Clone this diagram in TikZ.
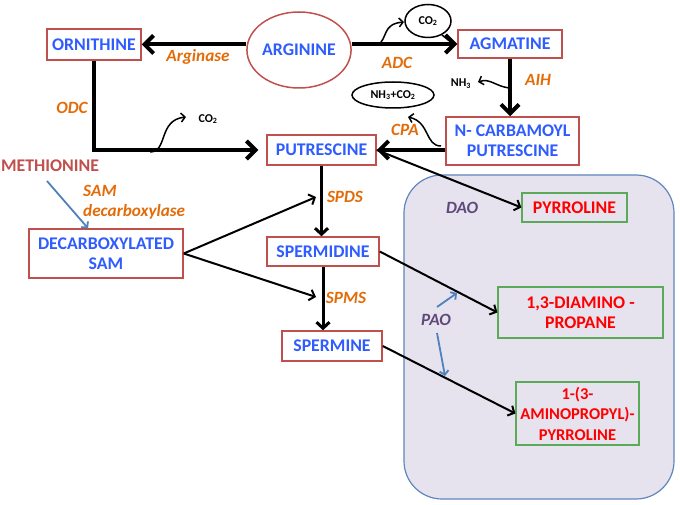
\documentclass[tikz,border=0pt]{standalone}
\usepackage{fontspec}
\setmainfont{Carlito}
\usetikzlibrary{arrows.meta,shapes.geometric}
\definecolor{boxblue}{RGB}{46,92,255}
\definecolor{boxred}{RGB}{192,80,77}
\definecolor{enzorange}{RGB}{227,108,9}
\definecolor{prodred}{RGB}{255,0,0}
\definecolor{prodgreen}{RGB}{90,170,90}
\definecolor{enzpurple}{RGB}{95,73,122}
\definecolor{panelfill}{RGB}{230,226,238}
\definecolor{panelline}{RGB}{95,135,190}
\definecolor{sideblue}{RGB}{79,129,189}
\begin{document}
\begin{tikzpicture}[x=1pt,y=-1pt,
  bigfont/.style={font=\bfseries\fontsize{17.8}{20}\selectfont},
  redbox/.style={draw=boxred, line width=1.5pt, fill=white, text=boxblue, bigfont, inner sep=0pt, align=center},
  greenbox/.style={draw=prodgreen, line width=1.2pt, fill=panelfill, text=prodred, bigfont, inner sep=0pt, align=center},
  enzyme/.style={text=enzorange, font=\bfseries\itshape\fontsize{17.2}{20}\selectfont, inner sep=0pt},
  enzymep/.style={text=enzpurple, font=\bfseries\itshape\fontsize{17.2}{20}\selectfont, inner sep=0pt},
  small/.style={font=\bfseries\fontsize{12}{14}\selectfont, inner sep=0pt},
  thickarr/.style={draw=black, line width=4pt, -{Straight Barb[length=9pt,width=18pt,line width=4pt]}},
  midarr/.style={draw=black, line width=3pt, -{Straight Barb[length=6pt,width=13pt,line width=3pt]}},
  thinarr/.style={draw=black, line width=2pt, -{Straight Barb[length=5pt,width=11pt,line width=2pt]}},
  sidearr/.style={draw=black, line width=1.5pt, -{Straight Barb[length=4pt,width=9pt,line width=1.5pt]}},
  bluearr/.style={draw=sideblue, line width=1.8pt, -{Straight Barb[length=4pt,width=9pt,line width=1.8pt]}}
]
\useasboundingbox (0,0) rectangle (680,505);
\fill[white] (0,0) rectangle (680,505);

% panel
\draw[panelline, line width=1.2pt, fill=panelfill, rounded corners=38pt] (404,175) rectangle (674,499);

% nodes
\node[redbox, minimum width=94pt, minimum height=31pt] (orn) at (94,44.5) {ORNITHINE};
\node[ellipse, draw=boxred, line width=1.5pt, fill=white, text=boxblue, bigfont, minimum width=92pt, minimum height=76pt, inner sep=0pt] (arg) at (299,50) {ARGININE};
\node[redbox, minimum width=104pt, minimum height=28pt] (agm) at (510,44) {AGMATINE};
\node[redbox, minimum width=133pt, minimum height=48pt] (ncp) at (512.5,141) {N- CARBAMOYL\\PUTRESCINE};
\node[redbox, minimum width=109pt, minimum height=30pt] (put) at (321.5,150) {PUTRESCINE};
\node[redbox, minimum width=154pt, minimum height=49pt] (dsam) at (106,253.5) {DECARBOXYLATED\\SAM};
\node[redbox, minimum width=112pt, minimum height=29pt] (spd) at (323,251.5) {SPERMIDINE};
\node[redbox, minimum width=100pt, minimum height=30pt] (spm) at (332,346) {SPERMINE};
\node[greenbox, minimum width=105pt, minimum height=29pt] (pyr) at (574.5,207.5) {PYRROLINE};
\node[greenbox, minimum width=165pt, minimum height=51pt] (dap) at (580.5,312.5) {1,3-DIAMINO -\\PROPANE};
\node[greenbox, minimum width=123pt, minimum height=63pt, font=\bfseries\fontsize{16.5}{20.5}\selectfont] (app) at (577.5,413.5) {1-(3-\\AMINOPROPYL)-\\PYRROLINE};

\node[ellipse, draw=black, line width=1.5pt, fill=white, small, minimum width=46pt, minimum height=33pt, inner sep=0pt] (co2b) at (428,21) {CO\textsubscript{2}};
\node[ellipse, draw=black, line width=1.5pt, fill=white, small, minimum width=82pt, minimum height=26pt, inner sep=0pt] (nhco) at (393,95) {NH\textsubscript{3}+CO\textsubscript{2}};
\node[small] (co2a) at (208,119) {CO\textsubscript{2}};
\node[small] (nh3) at (461,84) {NH\textsubscript{3}};
\node[text=boxred, bigfont, inner sep=0pt] (met) at (50,166) {METHIONINE};

% enzyme labels
\node[enzyme] (arginase) at (198,57) {Arginase};
\node[enzyme] (adc) at (397,63) {ADC};
\node[enzyme] (aih) at (538,80) {AIH};
\node[enzyme] (cpa) at (405,130) {CPA};
\node[enzyme] (odc) at (72,108) {ODC};
\node[enzyme, anchor=west] (sam) at (83,191) {SAM};
\node[enzyme, anchor=west] (decarb) at (83,212) {decarboxylase};
\node[enzyme] (spds) at (345,197) {SPDS};
\node[enzyme] (spms) at (346,298) {SPMS};
\node[enzymep] (dao) at (462,208) {DAO};
\node[enzymep] (pao) at (436,320) {PAO};

% coordinates
\coordinate (c1) at (150,152);
\coordinate (c1t) at (186,117);
\coordinate (c2) at (378,45);
\coordinate (c2t) at (404,22);
\coordinate (c3) at (509,88);
\coordinate (c3t) at (478,82);
\coordinate (c4) at (441,146);
\coordinate (c4t) at (408,117);
\coordinate (samup) at (316,197);
\coordinate (samdn) at (316,297);
\coordinate (mets) at (47,181);
\coordinate (p1s) at (437,307);
\coordinate (p1t) at (457,293);
\coordinate (p2s) at (437,333);
\coordinate (p2t) at (445,376);

% main thick arrows
\draw[thickarr] (arg.west |- orn.east) -- (orn.east);
\draw[thickarr] (arg.east |- agm.west) -- (agm.west);
\draw[thickarr, shorten >=8pt] (orn.south) |- (put.west);
\draw[thickarr] (agm.south) -- (agm.south |- ncp.north);
\draw[thickarr] (ncp.west |- put.east) -- (put.east);

% side products
\draw[sidearr] (c1) .. controls (168,152) and (158,120) .. (c1t);
\draw[sidearr] (c2) .. controls (388,38) and (382,24) .. (c2t);
\draw[line width=1.5pt] (co2b.-45) .. controls (447,38) .. (452,43);
\draw[sidearr] (c3) .. controls (495,86) and (490,78) .. (c3t);
\draw[sidearr] (c4) .. controls (425,146) and (430,122) .. (c4t);

% spermidine/spermine branch
\draw[midarr] (put.south) -- (put.south |- spd.north);
\draw[midarr] (spd.south) -- (spd.south |- spm.north);
\draw[thinarr] (dsam.east) -- (samup);
\draw[thinarr] (dsam.east) -- (samdn);
\draw[bluearr] (mets) -- (dsam.north -| 88,0);

% oxidase arrows
\draw[thinarr] (put.east) -- (pyr.west);
\draw[thinarr] (spd.east) -- (dap.west);
\draw[thinarr] (spm.east) -- (app.west);
\draw[bluearr] (p1s) -- (p1t);
\draw[bluearr] (p2s) -- (p2t);
\end{tikzpicture}
\end{document}
